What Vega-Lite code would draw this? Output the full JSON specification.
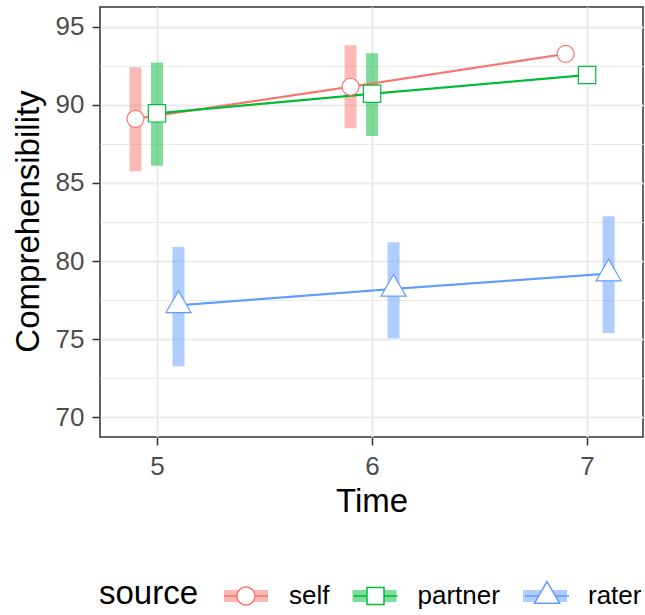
{
  "$schema": "https://vega.github.io/schema/vega-lite/v6.json",
  "width": 543,
  "height": 430,
  "autosize": {"type": "none"},
  "padding": {"left": 100, "top": 7, "right": 2, "bottom": 178},
  "background": "white",
  "config": {
    "font": "Liberation Sans",
    "view": {"stroke": "#333333", "strokeWidth": 1.5}
  },
  "data": {
    "values": [
      {"source": "self", "Time": 5, "mean": 89.1, "lower": 85.75, "upper": 92.4},
      {"source": "self", "Time": 6, "mean": 91.15, "lower": 88.5, "upper": 93.8},
      {"source": "self", "Time": 7, "mean": 93.25, "lower": null, "upper": null},
      {"source": "partner", "Time": 5, "mean": 89.45, "lower": 86.1, "upper": 92.7},
      {"source": "partner", "Time": 6, "mean": 90.7, "lower": 88.0, "upper": 93.3},
      {"source": "partner", "Time": 7, "mean": 91.9, "lower": null, "upper": null},
      {"source": "rater", "Time": 5, "mean": 77.17, "lower": 73.28, "upper": 80.9},
      {"source": "rater", "Time": 6, "mean": 78.22, "lower": 75.07, "upper": 81.2},
      {"source": "rater", "Time": 7, "mean": 79.2, "lower": 75.4, "upper": 82.87}
    ]
  },
  "transform": [
    {"calculate": "datum.Time + (datum.source === 'self' ? -0.1 : datum.source === 'rater' ? 0.1 : 0)", "as": "x"}
  ],
  "encoding": {
    "x": {
      "field": "x",
      "type": "quantitative",
      "title": "Time",
      "scale": {"domain": [4.735, 7.26], "nice": false, "zero": false},
      "axis": {
        "values": [5, 5.5, 6, 6.5, 7],
        "format": "d",
        "labelExpr": "datum.value % 1 === 0 ? datum.label : ''",
        "grid": true,
        "gridColor": "#EBEBEB",
        "gridWidth": {"condition": {"test": "datum.value % 1 === 0", "value": 2}, "value": 1.1},
        "tickOpacity": {"condition": {"test": "datum.value % 1 === 0", "value": 1}, "value": 0},
        "tickColor": "#333333",
        "tickWidth": 1.5,
        "tickSize": 8,
        "domain": false,
        "labelFontSize": 26,
        "labelColor": "#4D4D4D",
        "labelPadding": 8,
        "labelFlush": false,
        "labelOverlap": false,
        "titleFontSize": 33,
        "titleFontWeight": "normal",
        "titleColor": "black",
        "titleX": 271.5,
        "titleY": 74,
        "titleBaseline": "alphabetic",
        "titleAlign": "center"
      }
    },
    "y": {
      "field": "mean",
      "type": "quantitative",
      "title": "Comprehensibility",
      "scale": {"domain": [68.75, 96.25], "nice": false, "zero": false},
      "axis": {
        "values": [70, 72.5, 75, 77.5, 80, 82.5, 85, 87.5, 90, 92.5, 95],
        "format": "d",
        "labelExpr": "datum.value % 5 === 0 ? datum.label : ''",
        "grid": true,
        "gridColor": "#EBEBEB",
        "gridWidth": {"condition": {"test": "datum.value % 5 === 0", "value": 2}, "value": 1.1},
        "tickOpacity": {"condition": {"test": "datum.value % 5 === 0", "value": 1}, "value": 0},
        "tickColor": "#333333",
        "tickWidth": 1.5,
        "tickSize": 8,
        "domain": false,
        "labelFontSize": 26,
        "labelColor": "#4D4D4D",
        "labelPadding": 8,
        "labelOverlap": false,
        "titleFontSize": 33,
        "titleFontWeight": "normal",
        "titleColor": "black",
        "titleX": -62,
        "titleY": 214,
        "titleAngle": 270,
        "titleBaseline": "alphabetic",
        "titleAlign": "center"
      }
    }
  },
  "layer": [
    {
      "transform": [{"filter": "datum.lower != null"}],
      "mark": {"type": "rule", "strokeWidth": 12, "opacity": 0.5, "strokeCap": "butt"},
      "encoding": {
        "y": {
          "field": "lower",
          "type": "quantitative",
          "title": "Comprehensibility",
          "scale": {"domain": [68.75, 96.25], "nice": false, "zero": false},
          "axis": {
            "values": [70, 72.5, 75, 77.5, 80, 82.5, 85, 87.5, 90, 92.5, 95],
            "format": "d",
            "labelExpr": "datum.value % 5 === 0 ? datum.label : ''",
            "grid": true,
            "gridColor": "#EBEBEB",
            "gridWidth": {"condition": {"test": "datum.value % 5 === 0", "value": 2}, "value": 1.1},
            "tickOpacity": {"condition": {"test": "datum.value % 5 === 0", "value": 1}, "value": 0},
            "tickColor": "#333333",
            "tickWidth": 1.5,
            "tickSize": 8,
            "domain": false,
            "labelFontSize": 26,
            "labelColor": "#4D4D4D",
            "labelPadding": 8,
            "labelOverlap": false,
            "titleFontSize": 33,
            "titleFontWeight": "normal",
            "titleColor": "black",
            "titleX": -62,
            "titleY": 214,
            "titleAngle": 270,
            "titleBaseline": "alphabetic",
            "titleAlign": "center"
          }
        },
        "y2": {"field": "upper"},
        "color": {
          "field": "source",
          "type": "nominal",
          "scale": {"domain": ["self", "partner", "rater"], "range": ["#F8766D", "#00BA38", "#619CFF"]},
          "legend": {
            "title": "source",
            "orient": "none",
            "legendX": -1,
            "legendY": 561,
            "direction": "horizontal",
            "columns": 3,
            "padding": 0,
            "symbolType": "stroke",
            "symbolSize": 1936,
            "symbolStrokeWidth": 12,
            "symbolOpacity": 0.5,
            "labelFontSize": 26,
            "labelColor": "black",
            "labelOffset": 15,
            "columnPadding": -1.5,
            "titleFontSize": 33,
            "titleFontWeight": "normal",
            "titleColor": "black",
            "titleOrient": "left",
            "titleAnchor": "middle",
            "titleBaseline": "middle",
            "titlePadding": 19,
            "encode": {
              "symbols": {
                "update": {
                  "stroke": {"signal": "scale('color', datum.value)"},
                  "opacity": {"value": 0.5},
                  "size": {"value": 1936},
                  "strokeWidth": {"value": 12}
                }
              }
            }
          }
        }
      }
    },
    {
      "mark": {"type": "line", "strokeWidth": 2.2},
      "encoding": {
        "color": {"field": "source", "type": "nominal"},
        "strokeDash": {
          "field": "source",
          "type": "nominal",
          "sort": ["self", "partner", "rater"],
          "scale": {"range": [[1, 0], [1, 0], [1, 0]]},
          "legend": {
            "title": "source",
            "orient": "none",
            "legendX": -1,
            "legendY": 561,
            "direction": "horizontal",
            "columns": 3,
            "padding": 0,
            "symbolSize": 2970.25,
            "symbolStrokeWidth": 1.5,
            "labelFontSize": 26,
            "labelColor": "transparent",
            "labelOffset": 15,
            "columnPadding": 17.5,
            "titleFontSize": 33,
            "titleFontWeight": "normal",
            "titleColor": "transparent",
            "titleOrient": "left",
            "titleAnchor": "middle",
            "titleBaseline": "middle",
            "titlePadding": 19,
            "encode": {
              "symbols": {
                "update": {
                  "shape": {"signal": "datum.value === 'self' ? 'M-0.807,0H-0.33M0.33,0H0.807M0.33,0A0.33,0.33 0 1,1 -0.33,0A0.33,0.33 0 1,1 0.33,0Z' : datum.value === 'partner' ? 'M-0.807,0H-0.312M0.312,0H0.807M-0.312,-0.312H0.312V0.312H-0.312Z' : 'M-0.807,0H-0.306M0.306,0H0.807M0,-0.53L0.459,0.265H-0.459Z'"},
                  "stroke": {"signal": "scale('color', datum.value)"},
                  "fill": {"value": "white"},
                  "opacity": {"value": 1},
                  "strokeOpacity": {"value": 1},
                  "size": {"value": 2970.25},
                  "strokeWidth": {"value": 1.5}
                }
              }
            }
          }
        }
      }
    },
    {
      "mark": {"type": "point", "filled": false, "fill": "white", "strokeWidth": 1.2, "opacity": 1, "size": 289},
      "encoding": {
        "color": {"field": "source", "type": "nominal"},
        "shape": {
          "field": "source",
          "type": "nominal",
          "sort": ["self", "partner", "rater"],
          "scale": {"range": ["circle", "M-1.02,-1.02H1.02V1.02H-1.02Z", "M0,-1.698L1.47,0.849L-1.47,0.849Z"]},
          "legend": null
        }
      }
    }
  ]
}
